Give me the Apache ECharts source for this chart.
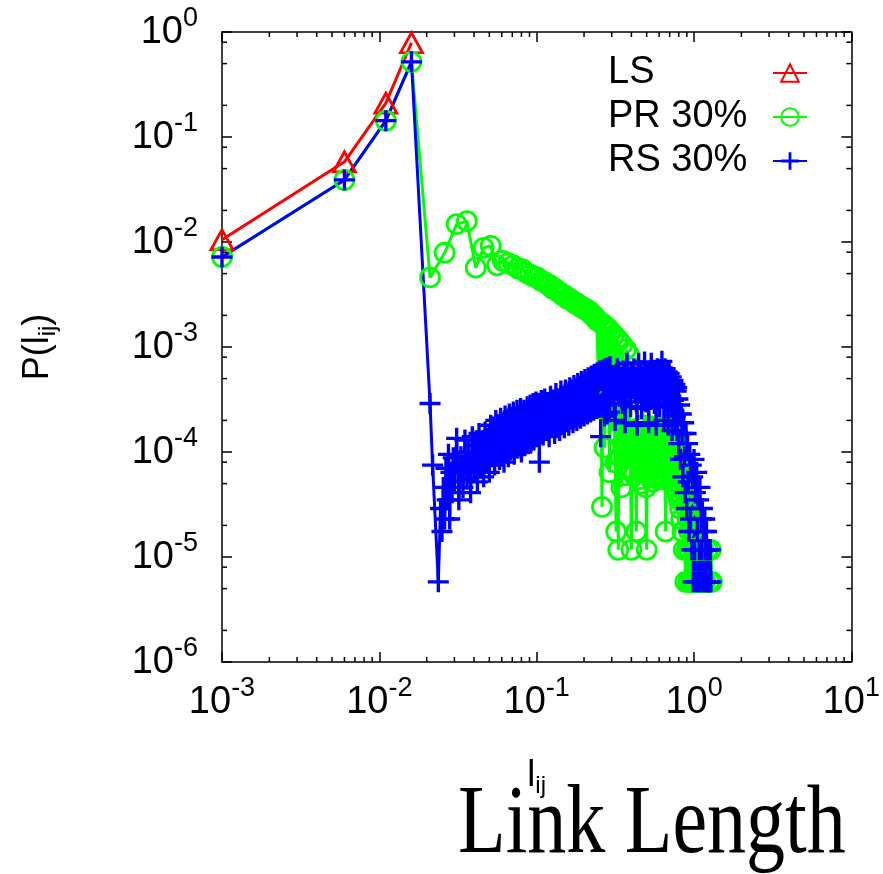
<!DOCTYPE html>
<html>
<head>
<meta charset="utf-8">
<script src="https://cdn.jsdelivr.net/npm/echarts@6/dist/echarts.min.js"></script>
<style>
  html, body { margin: 0; padding: 0; background: #fff; }
  #chart { width: 883px; height: 874px; }
</style>
</head>
<body>
<div id="chart"></div>
<script>
// [l_ij, P(l_ij)]
// LS: only the first four bins are non-zero
const lsPts = [[0.001, 0.0105], [0.006, 0.058], [0.011, 0.21], [0.016, 0.79]]

// PR 30%
const prPts = [
  [0.001, 0.0072], [0.006, 0.039], [0.011, 0.143], [0.016, 0.52],
  [0.021, 0.0046], [0.026, 0.0079], [0.031, 0.0148], [0.036, 0.0158], [0.041, 0.0057],
  [0.046, 0.0088], [0.051, 0.0092], [0.056, 0.0060], [0.061, 0.0066], [0.066, 0.0063],
  [0.071, 0.0060], [0.076, 0.0056], [0.081, 0.0055], [0.086, 0.0051], [0.091, 0.0049],
  [0.096, 0.0047], [0.101, 0.0046], [0.106, 0.0043], [0.111, 0.0042], [0.116, 0.0040],
  [0.121, 0.0039], [0.126, 0.0036], [0.131, 0.0036], [0.136, 0.0034], [0.141, 0.0033],
  [0.146, 0.0031], [0.151, 0.0031], [0.156, 0.0029], [0.161, 0.0029], [0.166, 0.0028],
  [0.171, 0.0027], [0.176, 0.0026], [0.181, 0.0026], [0.186, 0.0025], [0.191, 0.0024],
  [0.196, 0.0024], [0.201, 0.0023], [0.206, 0.0023], [0.211, 0.0022], [0.216, 0.0022],
  [0.221, 0.0021], [0.226, 0.0020], [0.231, 0.0020], [0.236, 0.0019], [0.241, 0.0018],
  [0.245, 1.8e-3], [0.25, 2.6e-4], [0.255, 1.7e-3], [0.26, 3.0e-5], [0.265, 1.65e-3],
  [0.27, 1.1e-4], [0.275, 1.55e-3], [0.28, 3.2e-4], [0.285, 1.5e-3], [0.29, 6.4e-5],
  [0.295, 1.4e-3], [0.3, 1.6e-4], [0.31, 1.3e-3], [0.315, 8.0e-5], [0.32, 1.75e-5],
  [0.325, 1.2e-3], [0.33, 1.17e-5], [0.335, 1.15e-3], [0.34, 9.0e-5], [0.345, 4.6e-5],
  [0.35, 1.05e-3], [0.355, 1.2e-4], [0.36, 1.5e-4], [0.365, 6.0e-5], [0.37, 9.5e-4],
  [0.375, 1.1e-4], [0.38, 1.3e-4], [0.385, 8.5e-4],
  [0.39, 1.4e-4], [0.395, 7.0e-5], [0.4, 1.17e-5], [0.405, 9.0e-5], [0.41, 1.6e-4],
  [0.415, 6.0e-5], [0.42, 1.3e-4], [0.425, 8.5e-5], [0.43, 1.75e-5], [0.435, 1.5e-4],
  [0.44, 1.0e-4], [0.445, 5.5e-5], [0.45, 1.7e-4], [0.455, 1.2e-4], [0.46, 5.0e-5],
  [0.465, 1.4e-4], [0.47, 8.0e-5], [0.475, 1.8e-4], [0.48, 1.1e-4], [0.485, 6.4e-5],
  [0.49, 1.5e-4], [0.495, 4.6e-5], [0.5, 1.17e-5], [0.505, 1.3e-4], [0.51, 9.5e-5],
  [0.515, 5.8e-5], [0.52, 1.6e-4], [0.525, 1.0e-4], [0.53, 6.8e-5], [0.535, 1.75e-4],
  [0.54, 1.2e-4], [0.545, 5.2e-5], [0.55, 1.45e-4], [0.555, 9.0e-5], [0.56, 1.7e-4],
  [0.565, 6.0e-5], [0.57, 1.25e-4], [0.575, 8.0e-5], [0.58, 1.6e-4], [0.585, 1.05e-4],
  [0.59, 5.5e-5], [0.595, 1.4e-4], [0.6, 1.1e-4], [0.605, 6.4e-5], [0.61, 1.7e-4],
  [0.615, 9.0e-5], [0.62, 1.3e-4], [0.625, 5.8e-5], [0.63, 1.55e-4], [0.635, 1.1e-4],
  [0.64, 7.0e-5], [0.645, 1.65e-4], [0.65, 1.2e-4], [0.655, 5.5e-5], [0.66, 1.75e-5],
  [0.665, 1.4e-4], [0.67, 1.0e-4], [0.675, 1.7e-4], [0.68, 6.8e-5], [0.685, 1.3e-4],
  [0.69, 9.0e-5], [0.695, 1.6e-4], [0.7, 6.0e-5], [0.705, 1.2e-4], [0.71, 1.5e-4],
  [0.715, 7.5e-5], [0.72, 1.35e-4], [0.725, 5.2e-5], [0.73, 1.1e-4], [0.735, 1.45e-4],
  [0.74, 6.4e-5], [0.745, 1.2e-4], [0.75, 9.0e-5], [0.755, 4.6e-5], [0.76, 1.3e-4],
  [0.765, 8.0e-5], [0.77, 1.1e-4], [0.775, 5.2e-5], [0.78, 1.1e-4], [0.785, 4.1e-5],
  [0.79, 1.2e-4], [0.795, 7.5e-5], [0.8, 3.5e-5], [0.805, 1.0e-4], [0.81, 6.0e-5],
  [0.815, 2.9e-5], [0.82, 8.5e-5], [0.825, 4.6e-5], [0.83, 2.3e-5], [0.835, 7.0e-5],
  [0.84, 3.5e-5], [0.845, 1.75e-5], [0.85, 5.2e-5], [0.86, 1.17e-5], [0.87, 4.1e-5],
  [0.88, 5.8e-6], [0.89, 2.9e-5], [0.9, 1.17e-5], [0.91, 2.3e-5], [0.92, 5.8e-6],
  [0.93, 1.75e-5], [0.94, 1.17e-5], [0.95, 2.3e-5], [0.96, 5.8e-6], [0.97, 1.75e-5],
  [0.98, 5.8e-6], [0.99, 1.17e-5], [1.0, 2.3e-5], [1.01, 5.8e-6], [1.02, 1.17e-5],
  [1.03, 5.8e-6], [1.04, 1.75e-5], [1.05, 5.8e-6], [1.06, 1.17e-5], [1.08, 5.8e-6],
  [1.1, 1.17e-5], [1.12, 5.8e-6], [1.15, 1.17e-5], [1.18, 5.8e-6], [1.22, 1.17e-5],
  [1.25, 5.8e-6], [1.28, 1.17e-5], [1.3, 5.8e-6],
]

// RS 30%
const rsPts = [
  [0.001, 0.0072], [0.006, 0.039], [0.011, 0.143], [0.016, 0.52],
  [0.021, 2.9e-4], [0.0218, 7.5e-5], [0.0237, 5.8e-6], [0.0245, 2.9e-5], [0.025, 1.75e-5],
  [0.0255, 4.6e-5], [0.026, 2.3e-5], [0.0265, 7.0e-5], [0.027, 3.5e-5], [0.0275, 9.5e-5],
  [0.028, 2.3e-5], [0.0285, 6.4e-5], [0.029, 4.1e-5], [0.0295, 8.8e-5], [0.03, 5.2e-5],
  [0.031, 1.35e-4], [0.032, 3.5e-5], [0.033, 9.0e-5], [0.034, 4.6e-5], [0.035, 1.3e-4],
  [0.036, 5.5e-5], [0.037, 1.0e-4], [0.038, 4.1e-5], [0.039, 1.4e-4], [0.04, 6.4e-5],
  [0.041, 1.15e-4], [0.042, 5.2e-5], [0.043, 1.5e-4], [0.044, 7.0e-5], [0.045, 1.25e-4],
  [0.046, 5.8e-5], [0.047, 1.55e-4], [0.048, 8.0e-5], [0.049, 1.35e-4], [0.05, 6.4e-5],
  [0.051, 1.8e-4], [0.052, 9.0e-5], [0.053, 1.6e-4], [0.054, 7.5e-5], [0.055, 2.0e-4],
  [0.056, 1.1e-4], [0.057, 1.7e-4], [0.058, 8.5e-5], [0.059, 2.1e-4], [0.06, 1.0e-4],
  [0.061, 1.5e-4], [0.062, 8.0e-5], [0.063, 2.2e-4], [0.064, 1.2e-4], [0.065, 1.8e-4],
  [0.066, 9.0e-5], [0.067, 2.3e-4], [0.068, 1.05e-4], [0.069, 1.9e-4], [0.07, 1.3e-4],
  [0.071, 2.4e-4], [0.072, 9.5e-5], [0.073, 1.7e-4], [0.074, 1.2e-4], [0.075, 2.5e-4],
  [0.076, 1.1e-4], [0.077, 2.0e-4], [0.078, 1.35e-4], [0.079, 2.6e-4], [0.08, 1.0e-4],
  [0.081, 1.9e-4], [0.082, 1.4e-4], [0.083, 2.5e-4], [0.084, 1.15e-4], [0.085, 2.2e-4],
  [0.086, 1.5e-4], [0.087, 2.7e-4], [0.088, 1.2e-4], [0.089, 2.1e-4], [0.09, 1.45e-4],
  [0.091, 2.8e-4], [0.092, 1.25e-4], [0.093, 2.3e-4], [0.094, 1.6e-4], [0.095, 2.9e-4],
  [0.096, 1.3e-4], [0.097, 2.4e-4], [0.098, 1.55e-4], [0.099, 3.0e-4], [0.1, 1.4e-4],
  [0.101, 2.5e-4], [0.102, 1.7e-4], [0.103, 2.9e-4], [0.104, 8.0e-5], [0.105, 2.2e-4],
  [0.106, 1.5e-4], [0.107, 3.1e-4], [0.108, 1.6e-4], [0.109, 2.6e-4], [0.11, 1.45e-4],
  [0.1125, 3.2e-4], [0.115, 1.6e-4], [0.1175, 2.7e-4], [0.12, 1.4e-4], [0.1225, 3.4e-4],
  [0.125, 1.8e-4], [0.1275, 2.9e-4], [0.13, 1.5e-4], [0.1325, 3.6e-4], [0.135, 1.9e-4],
  [0.1375, 3.0e-4], [0.14, 1.6e-4], [0.1425, 3.8e-4], [0.145, 2.0e-4], [0.1475, 3.2e-4],
  [0.15, 1.7e-4], [0.1525, 3.9e-4], [0.155, 2.2e-4], [0.1575, 3.3e-4], [0.16, 1.8e-4],
  [0.1625, 4.1e-4], [0.165, 2.3e-4], [0.1675, 3.5e-4], [0.17, 1.9e-4], [0.1725, 4.3e-4],
  [0.175, 2.4e-4], [0.1775, 3.7e-4], [0.18, 2.0e-4], [0.1825, 4.5e-4], [0.185, 2.5e-4],
  [0.1875, 3.8e-4], [0.19, 2.1e-4], [0.1925, 4.7e-4], [0.195, 2.6e-4], [0.1975, 4.0e-4],
  [0.2, 2.2e-4], [0.2025, 4.9e-4], [0.205, 2.7e-4], [0.2075, 4.1e-4], [0.21, 2.3e-4],
  [0.2125, 5.1e-4], [0.215, 2.8e-4], [0.2175, 4.3e-4], [0.22, 2.4e-4], [0.2225, 5.3e-4],
  [0.225, 2.9e-4], [0.2275, 4.4e-4], [0.23, 2.5e-4], [0.2325, 5.5e-4], [0.235, 3.0e-4],
  [0.2375, 4.6e-4], [0.24, 2.6e-4], [0.2425, 5.7e-4], [0.245, 3.1e-4], [0.2475, 4.7e-4],
  [0.25, 2.7e-4], [0.2525, 5.9e-4], [0.255, 1.4e-4], [0.2575, 4.8e-4], [0.26, 2.8e-4],
  [0.2625, 6.0e-4], [0.265, 3.2e-4], [0.2675, 4.9e-4], [0.27, 2.2e-4], [0.2725, 6.2e-4],
  [0.275, 3.3e-4], [0.2775, 5.0e-4], [0.28, 2.3e-4], [0.2825, 6.3e-4], [0.285, 3.4e-4],
  [0.2875, 5.1e-4], [0.29, 2.4e-4], [0.2925, 6.5e-4], [0.295, 3.5e-4], [0.2975, 5.2e-4],
  [0.3, 4.8e-4], [0.305, 4.4e-4], [0.31, 3.2e-4], [0.315, 2.0e-4], [0.32, 5.5e-4],
  [0.325, 6.2e-4], [0.33, 3.8e-4], [0.335, 3.4e-4], [0.34, 4.9e-4], [0.345, 4.5e-4],
  [0.35, 2.9e-4], [0.355, 5.9e-4], [0.36, 5.6e-4], [0.365, 1.9e-4], [0.37, 4.0e-4],
  [0.375, 7.0e-4], [0.38, 5.1e-4], [0.385, 4.6e-4], [0.39, 3.3e-4], [0.395, 2.7e-4],
  [0.4, 5.7e-4], [0.405, 4.8e-4], [0.41, 4.2e-4], [0.415, 6.2e-4], [0.42, 4.9e-4],
  [0.425, 3.6e-4], [0.43, 3.0e-4], [0.435, 1.8e-4], [0.44, 5.4e-4], [0.445, 7.0e-4],
  [0.45, 3.9e-4], [0.455, 4.7e-4], [0.46, 5.9e-4], [0.465, 2.6e-4], [0.47, 4.3e-4],
  [0.475, 5.2e-4], [0.48, 3.1e-4], [0.485, 7.2e-4], [0.49, 5.5e-4], [0.495, 3.0e-4],
  [0.5, 4.1e-4], [0.505, 5.8e-4], [0.51, 5.2e-4], [0.515, 1.9e-4], [0.52, 3.4e-4],
  [0.525, 4.5e-4], [0.53, 6.0e-4], [0.535, 7.0e-4], [0.54, 4.4e-4], [0.545, 3.2e-4],
  [0.55, 5.0e-4], [0.555, 5.9e-4], [0.56, 2.9e-4], [0.565, 4.3e-4], [0.57, 5.6e-4],
  [0.575, 1.8e-4], [0.58, 4.0e-4], [0.585, 6.2e-4], [0.59, 5.3e-4], [0.595, 4.6e-4],
  [0.6, 3.5e-4], [0.605, 2.7e-4], [0.61, 6.1e-4], [0.615, 5.7e-4], [0.62, 4.2e-4],
  [0.625, 7.3e-4], [0.63, 5.0e-4], [0.635, 3.9e-4], [0.64, 3.3e-4], [0.645, 2.0e-4],
  [0.65, 5.5e-4], [0.655, 6.2e-4], [0.66, 3.8e-4], [0.665, 4.5e-4], [0.67, 4.9e-4],
  [0.675, 5.8e-4], [0.68, 2.9e-4], [0.685, 1.8e-4], [0.69, 5.1e-4], [0.695, 5.6e-4],
  [0.7, 3.6e-4], [0.705, 4.1e-4], [0.71, 4.4e-4], [0.715, 5.2e-4], [0.72, 2.7e-4],
  [0.725, 1.6e-4], [0.73, 4.6e-4], [0.735, 4.8e-4], [0.74, 3.1e-4], [0.745, 2.5e-4],
  [0.75, 4.0e-4], [0.755, 4.4e-4], [0.76, 2.2e-4], [0.765, 1.9e-4], [0.77, 3.8e-4],
  [0.775, 4.1e-4], [0.78, 1.6e-4], [0.79, 3.2e-4],
  [0.8, 1.2e-4], [0.81, 2.8e-4], [0.82, 8.5e-5], [0.83, 2.3e-4], [0.84, 1.5e-4],
  [0.85, 5.8e-5], [0.86, 1.9e-4], [0.87, 9.0e-5], [0.88, 4.1e-5], [0.89, 1.5e-4],
  [0.9, 2.9e-5], [0.91, 1.2e-4], [0.92, 5.2e-5], [0.93, 1.75e-5], [0.94, 9.5e-5],
  [0.95, 2.3e-5], [0.96, 7.5e-5], [0.97, 1.17e-5], [0.98, 5.8e-5], [0.99, 5.8e-6],
  [1.0, 8.5e-5], [1.01, 1.17e-5], [1.02, 4.1e-5], [1.03, 5.8e-6], [1.04, 6.4e-5],
  [1.05, 1.75e-5], [1.06, 5.8e-6], [1.07, 3.5e-5], [1.08, 1.17e-5], [1.09, 4.6e-5],
  [1.1, 5.8e-6], [1.11, 2.3e-5], [1.12, 1.17e-5], [1.13, 2.9e-5], [1.14, 5.8e-6],
  [1.15, 1.75e-5], [1.16, 5.8e-6], [1.17, 2.3e-5], [1.18, 1.17e-5], [1.19, 5.8e-6],
  [1.2, 1.75e-5], [1.21, 5.8e-6], [1.22, 1.17e-5], [1.23, 5.8e-6], [1.24, 1.17e-5],
  [1.25, 5.8e-6], [1.26, 5.8e-6], [1.27, 1.17e-5], [1.28, 5.8e-6],
]

// minor tick positions
const minorX = [0.002, 0.003, 0.004, 0.005, 0.006, 0.007, 0.008, 0.009,
  0.02, 0.03, 0.04, 0.05, 0.06, 0.07, 0.08, 0.09,
  0.2, 0.3, 0.4, 0.5, 0.6, 0.7, 0.8, 0.9,
  2, 3, 4, 5, 6, 7, 8, 9]
const minorY = [2e-6, 5e-6, 8e-6, 2e-5, 5e-5, 8e-5, 2e-4, 5e-4, 8e-4,
  2e-3, 5e-3, 8e-3, 2e-2, 5e-2, 8e-2, 0.2, 0.5, 0.8]

const X_MIN = 0.001, X_MAX = 10, Y_MIN = 1e-6, Y_MAX = 1

const FONT = 'Liberation Sans'
const PLUS = 'path://M8.4,0H11.6V8.4H20V11.6H11.6V20H8.4V11.6H0V8.4H8.4Z'

const powLabel = v => '{b|10}{s|' + Math.round(Math.log10(v)) + '}'
const tickRich = {
  b: { fontFamily: FONT, fontSize: 38, color: '#000', lineHeight: 40, verticalAlign: 'bottom' },
  s: { fontFamily: FONT, fontSize: 27, color: '#000', lineHeight: 27, padding: [0, 0, 20, 0], verticalAlign: 'bottom' },
}
const nameRich = {
  n: { fontFamily: FONT, fontSize: 36, color: '#000', lineHeight: 44, verticalAlign: 'middle' },
  sub: { fontFamily: FONT, fontSize: 24, color: '#000', lineHeight: 22, verticalAlign: 'bottom' },
}

const chart = echarts.init(document.getElementById('chart'))

function minorTicks(name, values, isX) {
  return {
    name,
    type: 'custom',
    silent: true,
    z: 5,
    data: values.map(v => isX ? [v, Y_MIN] : [X_MIN, v]),
    renderItem: (params, api) => {
      const v = api.value(isX ? 0 : 1)
      const a = isX ? api.coord([v, Y_MIN]) : api.coord([X_MIN, v])
      const b = isX ? api.coord([v, Y_MAX]) : api.coord([X_MAX, v])
      const L = 5
      const style = { stroke: '#000', lineWidth: 1.5 }
      const shapes = isX
        ? [{ x1: a[0], y1: a[1], x2: a[0], y2: a[1] - L }, { x1: b[0], y1: b[1], x2: b[0], y2: b[1] + L }]
        : [{ x1: a[0], y1: a[1], x2: a[0] + L, y2: a[1] }, { x1: b[0], y1: b[1], x2: b[0] - L, y2: b[1] }]
      return { type: 'group', children: shapes.map(s => ({ type: 'line', shape: s, style })) }
    },
  }
}

const axisCommon = {
  axisLine: { show: true, lineStyle: { color: '#000', width: 1.5 } },
  axisTick: { show: true, inside: true, length: 10, lineStyle: { color: '#000', width: 1.5 } },
  splitLine: { show: false },
}

chart.setOption({
  animation: false,
  backgroundColor: '#fff',
  grid: { left: 222, top: 32, width: 631, height: 630 },
  graphic: [{
    type: 'text',
    x: 458,
    y: 826,
    scaleY: 1.25,
    style: {
      text: 'Link Length',
      font: '78px "Liberation Serif"',
      fill: '#000',
      verticalAlign: 'middle',
    },
  }],
  legend: {
    data: ['LS', 'PR 30%', 'RS 30%'],
    orient: 'vertical',
    left: 603,
    top: 49,
    align: 'right',
    itemWidth: 34,
    itemHeight: 22,
    itemGap: 6,
    formatter: name => '{t|' + name + '}',
    textStyle: {
      rich: { t: { fontFamily: FONT, fontSize: 38, color: '#000', width: 160, align: 'left', lineHeight: 44 } },
    },
  },
  xAxis: [
    {
      ...axisCommon,
      type: 'log', logBase: 10, min: X_MIN, max: X_MAX, splitNumber: 4,
      position: 'bottom',
      name: '{n|l}{sub|ij}',
      nameLocation: 'middle',
      nameGap: 92,
      nameTextStyle: { rich: nameRich },
      axisLabel: { margin: 20, formatter: powLabel, rich: tickRich },
    },
    {
      ...axisCommon,
      type: 'log', logBase: 10, min: X_MIN, max: X_MAX, splitNumber: 4,
      position: 'top',
      axisLabel: { show: false },
    },
  ],
  yAxis: [
    {
      ...axisCommon,
      type: 'log', logBase: 10, min: Y_MIN, max: Y_MAX, splitNumber: 6,
      position: 'left',
      name: '{n|P(l}{sub|ij}{n|)}',
      nameLocation: 'middle',
      nameRotate: 90,
      nameGap: 162,
      nameTextStyle: { rich: nameRich },
      axisLabel: { margin: 24, formatter: powLabel, rich: tickRich },
    },
    {
      ...axisCommon,
      type: 'log', logBase: 10, min: Y_MIN, max: Y_MAX, splitNumber: 6,
      position: 'right',
      axisLabel: { show: false },
    },
  ],
  series: [
    {
      name: 'LS',
      type: 'line',
      data: lsPts,
      symbol: 'triangle',
      symbolSize: [22, 20],
      lineStyle: { color: '#ff0000', width: 3 },
      itemStyle: { color: 'rgba(255,255,255,0)', borderColor: '#ff0000', borderWidth: 2.8 },
      emphasis: { disabled: true },
    },
    {
      name: 'PR 30%',
      type: 'line',
      data: prPts,
      symbol: 'circle',
      symbolSize: 19,
      lineStyle: { color: '#00ff00', width: 3 },
      itemStyle: { color: 'rgba(255,255,255,0)', borderColor: '#00ff00', borderWidth: 2.8 },
      emphasis: { disabled: true },
    },
    {
      name: 'RS 30%',
      type: 'line',
      data: rsPts,
      symbol: PLUS,
      symbolSize: 21,
      lineStyle: { color: '#0000ff', width: 3 },
      itemStyle: { color: '#0000ff' },
      emphasis: { disabled: true },
    },
    minorTicks('minorX', minorX, true),
    minorTicks('minorY', minorY, false),
  ],
})
</script>
</body>
</html>
